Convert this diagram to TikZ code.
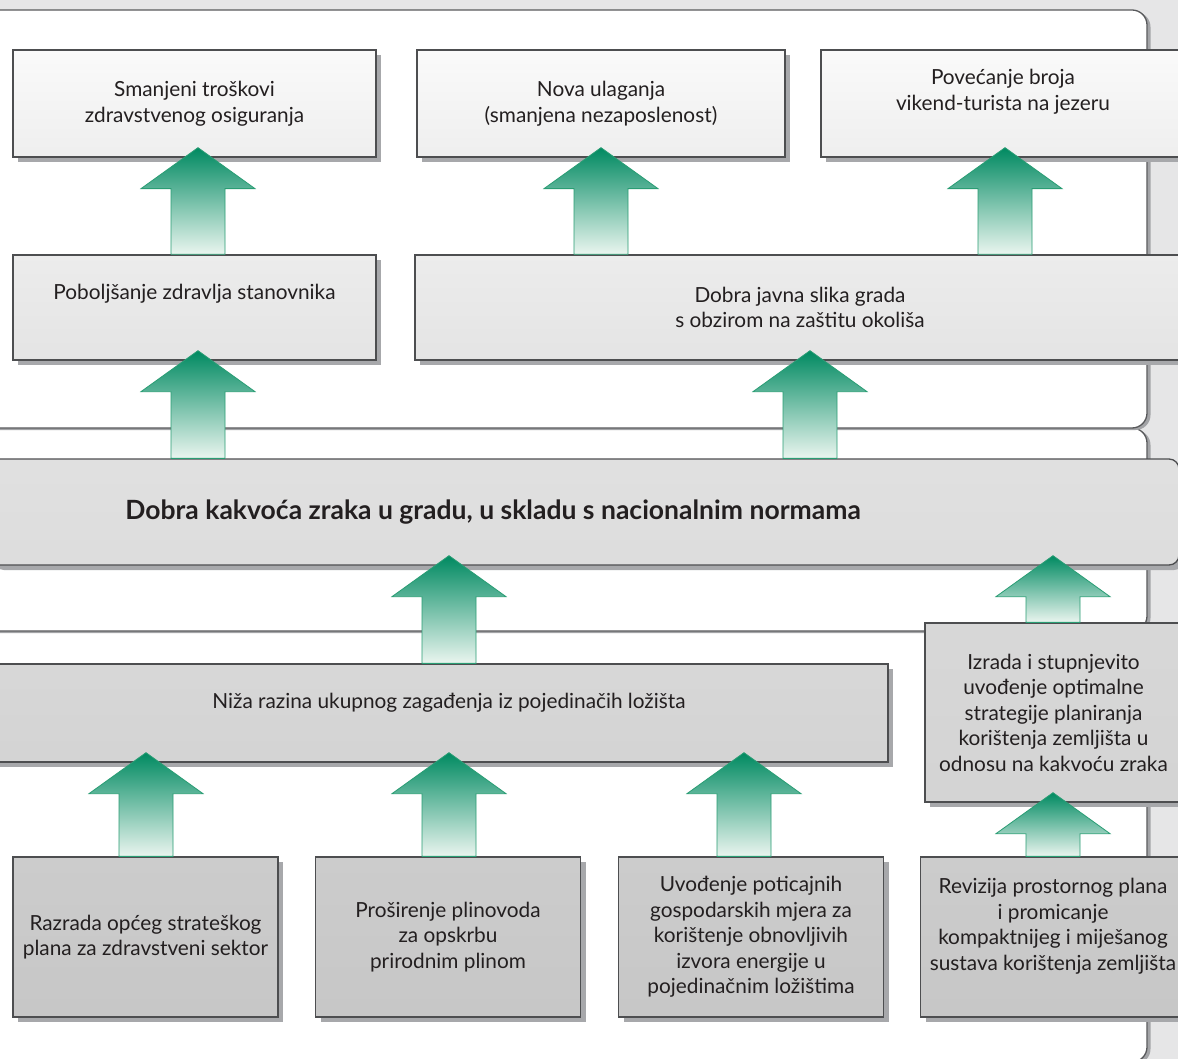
\documentclass[tikz,border=0pt]{standalone}
\usepackage{fontspec}
\setmainfont{Lato}
\usetikzlibrary{calc,shadows}
\definecolor{bgc}{HTML}{E6E6E7}
\definecolor{panelline}{HTML}{58595B}
\definecolor{panelshadow}{HTML}{A3A4A7}
\definecolor{boxline}{HTML}{4D4E50}
\definecolor{boxshadow}{HTML}{A7A8AB}
\definecolor{txt}{HTML}{231F20}
\definecolor{gtop}{HTML}{008A61}
\definecolor{gmid}{HTML}{359A74}
\definecolor{gbot}{HTML}{EAF5EF}
\definecolor{gline}{HTML}{2A9D74}
\newcommand\bodyfont{\fontsize{20.8}{25.5}\selectfont}
\tikzset{
  panel/.style={draw=panelline, line width=1.3pt, fill=white, rounded corners=15pt,
    general shadow={fill=panelshadow, shadow xshift=3.5pt, shadow yshift=-2pt}},
  boxbase/.style={draw=boxline, line width=1.3pt, inner sep=0pt, align=center,
    text=txt, font=\bodyfont,
    general shadow={fill=boxshadow, shadow xshift=5pt, shadow yshift=-5pt}},
  toprow/.style={boxbase, top color=white!50!gray!8, bottom color=gray!13, minimum height=107pt},
  midrow/.style={boxbase, top color=gray!15, bottom color=gray!21, minimum height=105pt},
  mainrow/.style={boxbase, top color=gray!24, bottom color=gray!27, minimum height=106pt, rounded corners=10pt},
  lowrow/.style={boxbase, top color=gray!31, bottom color=gray!34},
  baserow/.style={boxbase, top color=gray!40, bottom color=gray!44, minimum height=160pt, minimum width=265pt},
  garrow/.style={draw=gline, line width=0.8pt, top color=gtop, middle color=gmid, bottom color=gbot},
  lbl/.style={text=txt, font=\bodyfont, align=center},
}
\newcommand\grarr[3]{% x, lower node, upper node
  \coordinate (tipA) at ([yshift=10pt]#3.south);
  \coordinate (tip) at (#1,0 |- tipA);
  \coordinate (bot) at (#1,0 |- #2.north);
  \path[garrow] (tip) -- ++(57,41) -- ++(-30,0) -- ($(bot)+(27,0)$) -- ($(bot)+(-27,0)$)
    -- ($(tip)+(-27,41)$) -- ++(-30,0) -- cycle;
}
\begin{document}
\begin{tikzpicture}[x=1pt,y=-1pt]
\useasboundingbox (0,0) rectangle (1178,1059);
\clip (0,0) rectangle (1178,1059);
\fill[bgc] (0,0) rectangle (1178,1059);

% panels
\path[panel] (-20,631) rectangle (1147,1062);
\path[panel] (-20,428) rectangle (1147,631);
\path[panel] (-20,10) rectangle (1147,428);

% top row
\node[toprow, minimum width=363pt] (A) at (194.5,103.5) {Smanjeni troškovi\\zdravstvenog osiguranja};
\node[toprow, minimum width=368pt] (B) at (601,103.5) {Nova ulaganja\\(smanjena nezaposlenost)};
\node[toprow, minimum width=364pt, label={[lbl, yshift=12pt]center:Povećanje broja\\vikend-turista na jezeru}] (C) at (1003,103.5) {};

% second row
\node[midrow, minimum width=363pt, label={[lbl, yshift=14pt]center:Poboljšanje zdravlja stanovnika}] (D) at (194.5,307.5) {};
\node[midrow, minimum width=770pt] (E) at (800,307.5) {Dobra javna slika grada\\s obzirom na zaštitu okoliša};

% main
\node[mainrow, minimum width=1190pt, label={[text=txt, font=\fontsize{26.5}{30}\bfseries, xshift=-91pt]center:Dobra kakvoća zraka u gradu, u skladu s nacionalnim normama}] (M) at (584,512) {};

% low row
\node[lowrow, minimum width=908pt, minimum height=98pt, label={[lbl, xshift=15pt, yshift=10pt]center:Niža razina ukupnog zagađenja iz pojedinačih ložišta}] (N) at (434,713) {};
\node[lowrow, minimum width=257pt, minimum height=179pt] (I) at (1053.5,712.5) {Izrada i stupnjevito\\uvođenje optimalne\\strategije planiranja\\korištenja zemljišta u\\odnosu na kakvoću zraka};

% base row
\node[baserow] (R1) at (145.5,937) {Razrada općeg strateškog\\plana za zdravstveni sektor};
\node[baserow] (R2) at (448,937) {Proširenje plinovoda\\za opskrbu\\prirodnim plinom};
\node[baserow] (R3) at (751,937) {Uvođenje poticajnih\\gospodarskih mjera za\\korištenje obnovljivih\\izvora energije u\\pojedinačnim ložištima};
\node[baserow, label={[lbl, yshift=11pt]center:Revizija prostornog plana\\i promicanje\\kompaktnijeg i miješanog\\sustava korištenja zemljišta}] (R4) at (1053,937) {};

% arrows
\grarr{198}{D}{A}
\grarr{601}{E}{B}
\grarr{1005}{E}{C}
\grarr{198}{M}{D}
\grarr{810}{M}{E}
\grarr{449}{N}{M}
\grarr{1053}{I}{M}
\grarr{146}{R1}{N}
\grarr{449}{R2}{N}
\grarr{744}{R3}{N}
\grarr{1053}{R4}{I}
\end{tikzpicture}
\end{document}
